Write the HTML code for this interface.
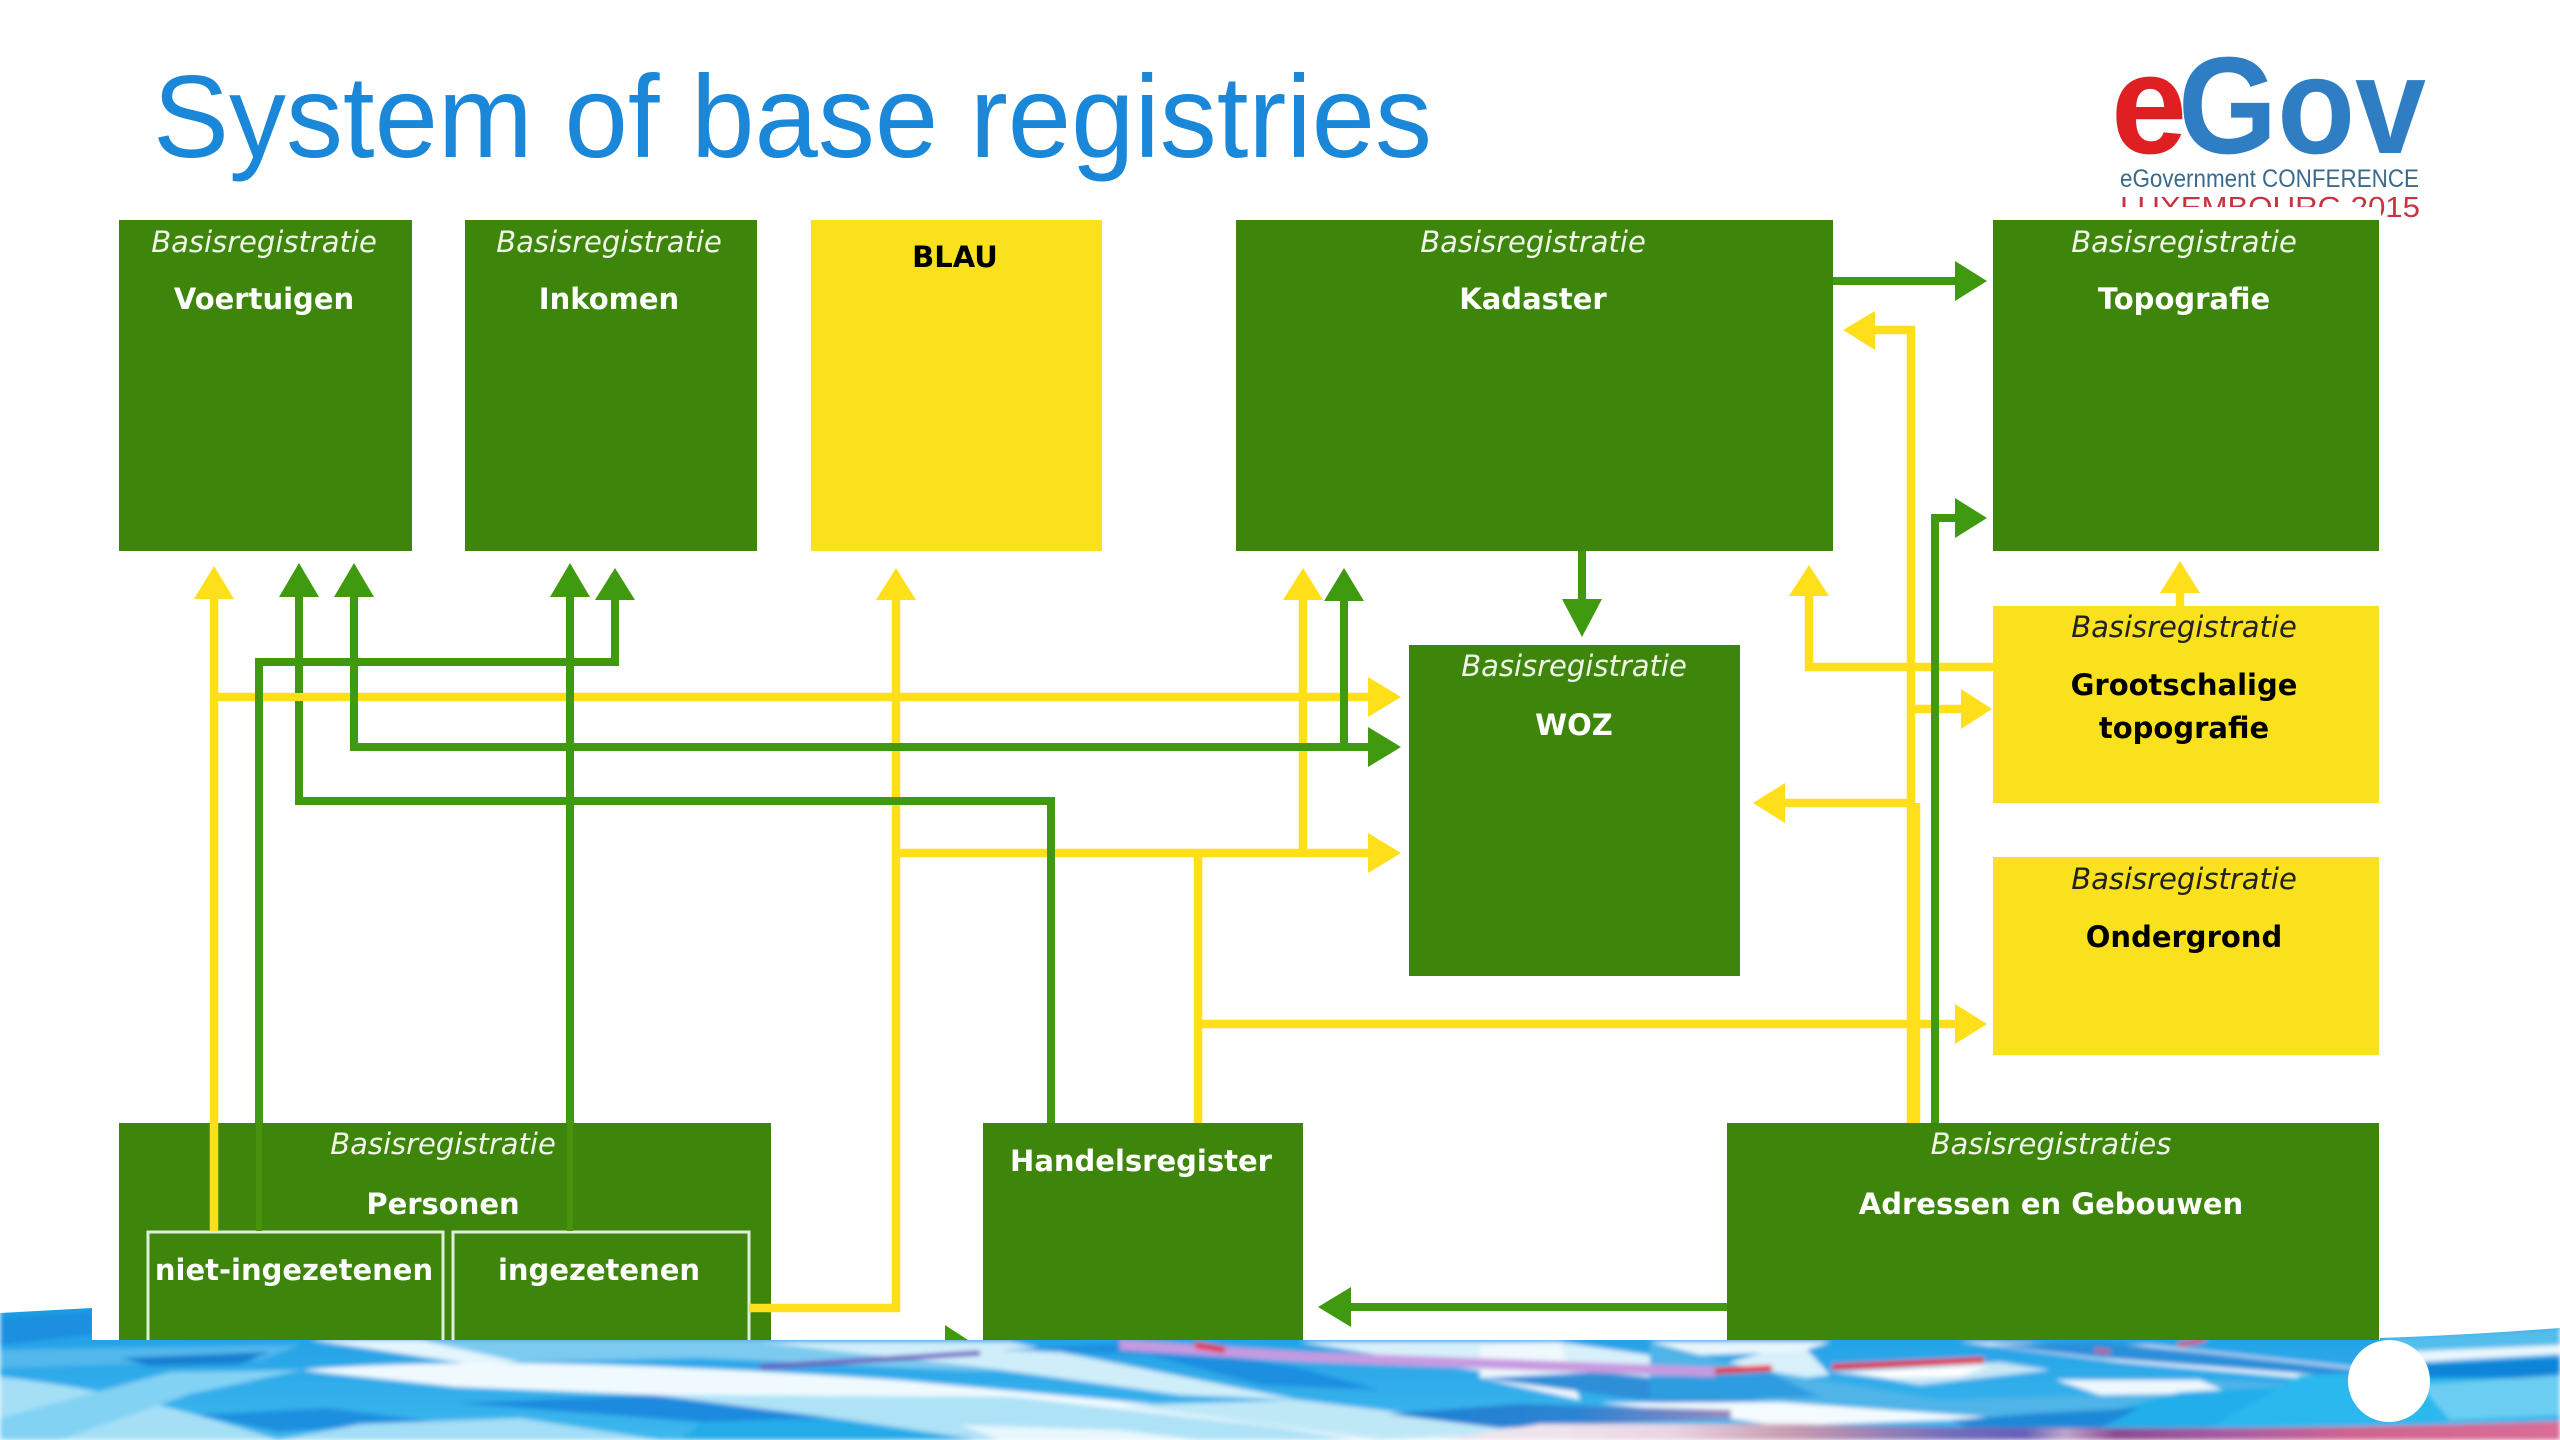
<!DOCTYPE html>
<html><head><meta charset="utf-8"><title>System of base registries</title>
<style>html,body{margin:0;padding:0;background:#fff;width:2560px;height:1440px;overflow:hidden}svg{display:block}
.b{font:bold 29px "DejaVu Sans",sans-serif;fill:#fff;text-anchor:middle}
.i{font:oblique 29px "DejaVu Sans",sans-serif;fill:#f0f5e8;text-anchor:middle}
.k{fill:#000}.ik{fill:#222}
</style></head><body>
<svg width="2560" height="1440" viewBox="0 0 2560 1440" xmlns="http://www.w3.org/2000/svg">
<defs><filter id="bl" x="-2%" y="-5%" width="104%" height="110%"><feGaussianBlur stdDeviation="2.5"/></filter>
<linearGradient id="lg" x1="0" y1="0" x2="0" y2="1"><stop offset="0" stop-color="#1c9ae4"/><stop offset="1" stop-color="#3db8ee"/></linearGradient>
<linearGradient id="pk" gradientUnits="userSpaceOnUse" x1="1550" y1="0" x2="2560" y2="0"><stop offset="0" stop-color="#f0e4ec"/><stop offset=".12" stop-color="#e8d4e2"/><stop offset=".24" stop-color="#c89ab0"/><stop offset=".4" stop-color="#6f6cbb"/><stop offset=".47" stop-color="#6a5fb8"/><stop offset=".51" stop-color="#c0a5cc"/><stop offset=".56" stop-color="#8c4a90"/><stop offset=".67" stop-color="#a85ba0"/><stop offset=".79" stop-color="#d0648f"/><stop offset="1" stop-color="#da6d95"/></linearGradient>
<linearGradient id="pb" gradientUnits="userSpaceOnUse" x1="1388" y1="0" x2="1731" y2="0"><stop offset="0" stop-color="#1f7fd3"/><stop offset=".55" stop-color="#2c83d3"/><stop offset="1" stop-color="#9a86bd"/></linearGradient>
<clipPath id="band"><path d="M0 1313 L92 1308 L92 1340 L2380 1340 L2380 1338 Q2470 1335 2560 1328 L2560 1440 L0 1440Z"/></clipPath></defs>

<!-- wave band -->
<g clip-path="url(#band)"><g filter="url(#bl)">
<rect x="0" y="1300" width="2560" height="140" fill="url(#lg)"/>
<path d="M0 1318 L92 1312 L92 1335 L0 1345Z" fill="#1f8fe0"/>
<path d="M0 1350 L300 1345 L260 1360 L0 1368Z" fill="#52b8ec"/>
<path d="M120 1358 L270 1352 L240 1364 L150 1366Z" fill="#147fd0"/>
<path d="M310 1340 L760 1340 L1000 1372 L700 1358 L510 1362Z" fill="#7ccaf0"/>
<path d="M310 1340 L420 1340 L520 1362 L470 1364Z" fill="#e4f5fc"/>
<path d="M0 1377 Q130 1390 278 1440 L0 1440Z" fill="#a5dff6"/>
<path d="M0 1418 L170 1372 L302 1370 L190 1394 L60 1440 L0 1440Z" fill="#82d2f4"/>
<path d="M196 1415 L327 1408 L441 1422 L278 1432Z" fill="#1b8fdf"/>
<path d="M278 1440 L360 1424 L520 1418 L660 1440Z" fill="#a2def6"/>
<path d="M302 1370 C420 1360 560 1362 686 1368 C780 1372 840 1376 898 1380 L1143 1403 L1355 1427 L1502 1440 L1355 1440 L1274 1427 L1012 1397 L653 1395 L457 1387 L327 1373Z" fill="#f0fafe"/>
<path d="M653 1395 L1012 1397 L1274 1427 L1355 1440 L980 1440 L833 1418Z" fill="#aee2f6"/>
<path d="M960 1425 L1120 1430 L1200 1440 L1000 1440Z" fill="#e8f7fd"/>
<path d="M457 1403 L653 1395 L833 1418 L702 1422Z" fill="#1a8ade"/>
<path d="M702 1422 L833 1418 L980 1440 L680 1440Z" fill="#25abe9"/>
<path d="M760 1342 L1010 1342 L1300 1400 L1180 1395 L1000 1370Z" fill="#cfeefa"/>
<path d="M1000 1350 L1150 1355 L1260 1385 L1380 1390 L1300 1368 L1140 1342Z" fill="#1f8fe0"/>
<path d="M1300 1342 L1560 1342 L1720 1365 L1800 1342 L1830 1375 L1640 1395 L1440 1365Z" fill="#d8f0fa"/>
<path d="M1480 1345 L1560 1342 L1580 1400 L1480 1378Z" fill="#eff8fd"/>
<path d="M1480 1378 L1600 1372 L1820 1395 L1680 1405Z" fill="#2d8fd8"/>
<path d="M1120 1405 L1300 1400 L1560 1432 L1380 1440Z" fill="#bfe8f7"/>
<path d="M1650 1342 L1830 1342 L1800 1352 L1700 1355Z" fill="#e8f6fc"/>
<path d="M1650 1342 L1750 1368 L1940 1400 L2100 1395 L2220 1380 L2380 1390 L2300 1400 L2100 1420 L1900 1420 L1700 1390 L1650 1385Z" fill="#4fb4e8"/>
<path d="M1650 1377 L1770 1372 L1820 1397 L1650 1400Z" fill="#2e9ce0"/>
<path d="M1600 1403 L1780 1402 L2000 1418 L1780 1426 L1700 1414Z" fill="#f4fbfe"/>
<path d="M1388 1414 L1520 1404 L1731 1410 L1731 1418 L1500 1428Z" fill="url(#pb)"/>
<path d="M1830 1372 L2000 1362 L2050 1370 L1920 1385 L1880 1378Z" fill="#c8e6f6"/>
<path d="M1850 1372 L1990 1366 L1960 1376 L1890 1378Z" fill="#fff"/>
<path d="M2056 1380 L2200 1380 L2230 1393 L2100 1395Z" fill="#eef8fd"/>
<path d="M1960 1342 L2150 1345 L2360 1368 L2300 1378 L2120 1362Z" fill="#eaf7fd"/>
<path d="M1990 1345 L2100 1358 L2360 1378 L2380 1372 L2200 1352 L2100 1342Z" fill="#2a8fda"/>
<path d="M2180 1392 L2310 1385 L2230 1440 L1980 1440 L2040 1430Z" fill="#22aeea"/>
<path d="M1950 1420 L2040 1413 L2140 1408 L2100 1428 L1980 1432Z" fill="#1f88d8"/>
<path d="M2300 1375 L2560 1365 L2560 1440 L2190 1440Z" fill="#2bb8ee"/>
<path d="M2380 1338 L2560 1328 L2560 1345 L2400 1352Z" fill="#52bdec"/>
<path d="M2400 1352 L2560 1345 L2560 1354 L2420 1362Z" fill="#eaf7fd"/>
<path d="M2410 1365 L2560 1358 L2560 1378 L2420 1378Z" fill="#0f84d8"/>
<path d="M2420 1385 L2560 1375 L2560 1415 L2450 1420Z" fill="#6ccdf2"/>
<path d="M1440 1440 L1540 1424 L1796 1424 Q2200 1434 2560 1421 L2560 1440Z" fill="url(#pk)"/>
<path d="M1120 1345 L1306 1357 L1715 1372" fill="none" stroke="#c79ae0" stroke-width="10"/>
<path d="M760 1367 L980 1353" stroke="#6d57bd" stroke-width="5" fill="none"/>
<path d="M1832 1367 L1984 1360" stroke="#e8242a" stroke-width="6" fill="none"/>
<path d="M1715 1371 L1772 1368" stroke="#e8242a" stroke-width="6" fill="none"/>
<path d="M1195 1345 L1225 1350" stroke="#e8242a" stroke-width="6" fill="none"/>
<path d="M2178 1345 L2205 1340" stroke="#e8343a" stroke-width="4" fill="none"/>
<path d="M2095 1350 L2110 1352" stroke="#e8343a" stroke-width="3" fill="none"/>
</g></g>
<circle cx="2389" cy="1381" r="41" fill="#fff"/>

<!-- title -->
<text x="153" y="157" font-family="'Liberation Sans',sans-serif" font-size="117" fill="#1a87d8" textLength="1279" lengthAdjust="spacingAndGlyphs">System of base registries</text>

<!-- logo -->
<g font-family="'Liberation Sans',sans-serif">
<text x="2111" y="153" font-size="142" font-weight="bold" fill="#e01f22" textLength="76" lengthAdjust="spacingAndGlyphs">e</text>
<text x="2178" y="153" font-size="138" font-weight="bold" fill="#2f7ec4" textLength="248" lengthAdjust="spacingAndGlyphs">Gov</text>
<text x="2120" y="187" font-size="25" fill="#3b6a8f" textLength="299" lengthAdjust="spacingAndGlyphs">eGovernment CONFERENCE</text>
<text x="2120" y="217" font-size="29" fill="#c7343f" textLength="300" lengthAdjust="spacingAndGlyphs">LUXEMBOURG 2015</text>
</g>
<rect x="2000" y="207" width="381" height="13" fill="#fff"/>

<!-- boxes -->
<g fill="#3d860b">
<rect x="119" y="220" width="293" height="331"/>
<rect x="465" y="220" width="292" height="331"/>
<rect x="1236" y="220" width="597" height="331"/>
<rect x="1993" y="220" width="386" height="331"/>
<rect x="1409" y="645" width="331" height="331"/>
<rect x="119" y="1123" width="652" height="217"/>
<rect x="983" y="1123" width="320" height="217"/>
<rect x="1727" y="1123" width="652" height="217"/>
</g>
<g fill="#f9e11e">
<rect x="811" y="220" width="291" height="331"/>
<rect x="1993" y="606" width="386" height="197"/>
<rect x="1993" y="857" width="386" height="198"/>
</g>
<g fill="none" stroke="#dfeeda" stroke-width="3">
<path d="M148 1340V1232H443V1340"/>
<path d="M453 1340V1232H749V1340"/>
</g>

<!-- yellow connectors -->
<g fill="none" stroke="#ffdf1a" stroke-width="8.5">
<path d="M214 1231V595"/>
<path d="M214 697H1372"/>
<path d="M749 1308H896V595"/>
<path d="M896 853H1372"/>
<path d="M1303 853V595"/>
<path d="M1198 853V1123"/>
<path d="M1198 1024H1960"/>
<path d="M1911 1123V330H1872"/>
<path d="M1916 1123V803"/>
<path d="M1911 709H1965"/>
<path d="M1993 667H1809V592"/>
<path d="M2180 606V590"/>
<path d="M1911 803H1782"/>
</g>
<g fill="#ffdf1a">
<path d="M214 566L234 599H194Z"/>
<path d="M1401 697L1368 677V717Z"/>
<path d="M896 568L916 600H876Z"/>
<path d="M1401 853L1368 833V873Z"/>
<path d="M1303 568L1323 600H1283Z"/>
<path d="M1987 1024L1955 1004V1044Z"/>
<path d="M1843 330L1875 311V350Z"/>
<path d="M1992 709L1961 689V729Z"/>
<path d="M1809 565L1829 596H1789Z"/>
<path d="M2180 561L2200 593H2160Z"/>
<path d="M1753 803L1785 783V823Z"/>
</g>

<!-- green connectors -->
<g fill="none" stroke="#3f9a10" stroke-width="8">
<path d="M259 1123V662H615V595"/>
<path d="M299 595V801H1051V1123"/>
<path d="M354 595V747H1372"/>
<path d="M570 1123V595"/>
<path d="M1344 747V595"/>
<path d="M1582 551V605"/>
<path d="M1833 281H1960"/>
<path d="M1935 1123V518H1960"/>
<path d="M1727 1307H1345"/>
</g>
<path d="M259 1123V1231M570 1123V1231" stroke="#48920f" stroke-width="6" fill="none"/>
<path d="M295 693h8v8h-8z" fill="#ffdf1a"/>
<g fill="#3f9a10">
<path d="M299 563L319 597H279Z"/>
<path d="M354 563L374 597H334Z"/>
<path d="M570 563L590 597H550Z"/>
<path d="M615 568L635 600H595Z"/>
<path d="M1401 747L1368 727V767Z"/>
<path d="M1344 568L1364 601H1324Z"/>
<path d="M1582 637L1602 599H1562Z"/>
<path d="M1987 281L1955 261V301Z"/>
<path d="M1987 518L1955 498V538Z"/>
<path d="M1318 1307L1351 1287V1327Z"/>
<path d="M945 1325L968 1340H945Z"/>
</g>

<!-- labels -->
<text class="i" x="264" y="252">Basisregistratie</text><text class="b" x="264" y="309">Voertuigen</text>
<text class="i" x="609" y="252">Basisregistratie</text><text class="b" x="609" y="309">Inkomen</text>
<text class="b k" x="955" y="267">BLAU</text>
<text class="i" x="1533" y="252">Basisregistratie</text><text class="b" x="1533" y="309">Kadaster</text>
<text class="i" x="2184" y="252">Basisregistratie</text><text class="b" x="2184" y="309">Topografie</text>
<text class="i" x="1574" y="676">Basisregistratie</text><text class="b" x="1574" y="735">WOZ</text>
<text class="i ik" x="2184" y="637">Basisregistratie</text><text class="b k" x="2184" y="695">Grootschalige</text><text class="b k" x="2184" y="738">topografie</text>
<text class="i ik" x="2184" y="889">Basisregistratie</text><text class="b k" x="2184" y="947">Ondergrond</text>
<text class="i" x="443" y="1154">Basisregistratie</text><text class="b" x="443" y="1214">Personen</text>
<text class="b" x="294" y="1280">niet-ingezetenen</text>
<text class="b" x="599" y="1280">ingezetenen</text>
<text class="b" x="1141" y="1171">Handelsregister</text>
<text class="i" x="2051" y="1154">Basisregistraties</text><text class="b" x="2051" y="1214">Adressen en Gebouwen</text>
</svg>
</body></html>
